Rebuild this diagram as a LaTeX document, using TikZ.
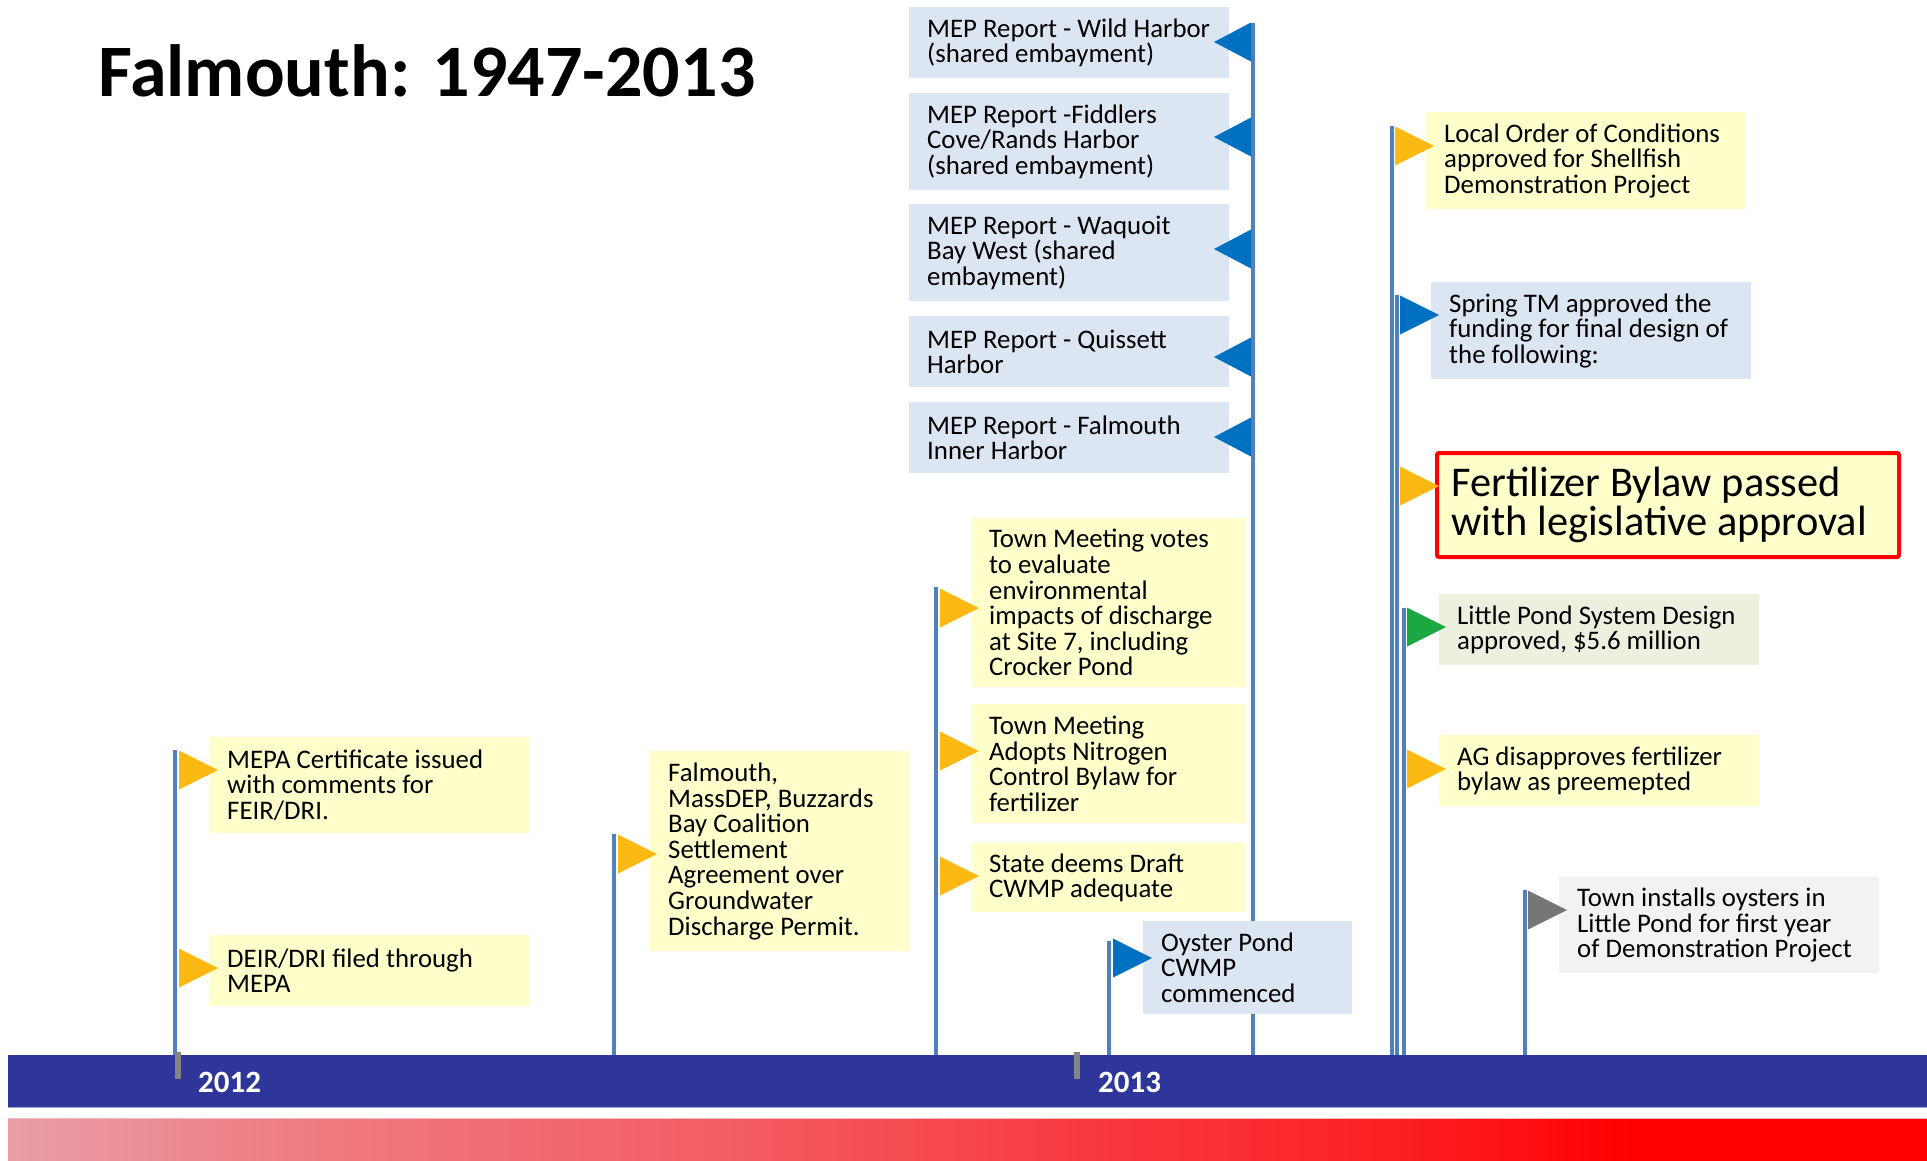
\documentclass[tikz,border=0pt]{standalone}
\usepackage{fontspec}
\setmainfont{Carlito}
\newfontfamily\bodyfam{Carlito}
\usetikzlibrary{positioning}
\definecolor{barblue}{RGB}{46,55,153}
\definecolor{stemblue}{RGB}{79,129,189}
\definecolor{flagY}{RGB}{253,185,19}
\definecolor{flagB}{RGB}{0,112,192}
\definecolor{flagG}{RGB}{27,168,67}
\definecolor{flagK}{RGB}{118,118,118}
\definecolor{boxY}{RGB}{255,255,204}
\definecolor{boxB}{RGB}{220,230,242}
\definecolor{boxG}{RGB}{235,241,222}
\definecolor{boxK}{RGB}{242,242,242}
\definecolor{gA}{RGB}{233,158,166}
\definecolor{gB}{RGB}{238,124,130}
\definecolor{gC}{RGB}{243,92,98}
\definecolor{gD}{RGB}{248,56,62}
\definecolor{gE}{RGB}{252,32,36}
\pgfdeclarehorizontalshading{redgrad}{100bp}{color(0bp)=(gA); color(25bp)=(gA); color(32.5bp)=(gB); color(44bp)=(gC); color(53.5bp)=(gD); color(61bp)=(gE); color(67.5bp)=(red); color(75bp)=(red); color(100bp)=(red)}
\newcommand\bodytext{\bodyfam\fontsize{26.8}{25.6}\selectfont}
\newcommand\flagR[3]{\fill[#1] ({#2},{#3-19.5}) -- ({#2+39},{#3}) -- ({#2},{#3+19.5}) -- cycle;}
\newcommand\flagL[3]{\fill[#1] ({#2},{#3-19.5}) -- ({#2-37},{#3}) -- ({#2},{#3+19.5}) -- cycle;}
\tikzset{
  stem/.style={draw=stemblue, line width=3.4pt},
  evbox/.style={anchor=north west, rectangle, inner sep=0pt},
  evtext/.style={anchor=west, inner sep=0pt, align=left, font=\bodytext, text=black},
  tick/.style={draw=flagK!90, line width=6pt},
  yearlbl/.style={anchor=base west, inner sep=0pt, text=white, font=\bodyfam\bfseries\fontsize{31}{31}\selectfont}
}
\newcommand\evb[7]{% name, fill, x1, y1, x2, y2, text
  \pgfmathsetmacro\evbw{#5-#3}\pgfmathsetmacro\evbh{#6-#4}%
  \node[evbox, fill=#2, minimum width=\evbw pt, minimum height=\evbh pt] (#1) at (#3,#4) {};
  \node[evtext, xshift=18pt] (#1-t) at (#1.west) {#7};}
\begin{document}
\begin{tikzpicture}[x=1pt,y=-1pt]
\useasboundingbox (0,0) rectangle (1927,1160);
% title
\node[anchor=base west, inner sep=0pt, font=\bodyfam\bfseries\fontsize{74}{80}\selectfont] (title) at (98,96) {Falmouth: 1947-2013};
% bars
\fill[barblue] (8,1055) rectangle (1927,1107);
\draw[color=barblue!45, line width=1pt] (8,1107.5) -- (1927,1107.5);
\shade[shading=redgrad] (8,1118) rectangle (1927,1160);
\draw[color=gA!70!white, line width=1pt] (8,1118.5) -- (1927,1118.5);
% stems
\coordinate (b1) at (175,1055); \coordinate (t1) at (175,750);
\coordinate (b2) at (614,1055); \coordinate (t2) at (614,834);
\coordinate (b3) at (936,1055); \coordinate (t3) at (936,587);
\coordinate (b4) at (1109,1055); \coordinate (t4) at (1109,941);
\coordinate (b5) at (1253,1055); \coordinate (t5) at (1253,23);
\coordinate (b6) at (1392,1055); \coordinate (t6) at (1392,126);
\coordinate (b7) at (1397,1055); \coordinate (t7) at (1397,295);
\coordinate (b8) at (1404,1055); \coordinate (t8) at (1404,608);
\coordinate (b9) at (1525,1055); \coordinate (t9) at (1525,890);
\foreach \i in {1,...,9} {\draw[stem] (b\i) -- (t\i);}
% year ticks and labels
\draw[tick] (178,1052) -- (178,1079);
\draw[tick] (1077,1052) -- (1077,1079);
\node[yearlbl] (y2012) at (198,1092) {2012};
\node[yearlbl] (y2013) at (1098,1092) {2013};
% boxes
\evb{mepa}{boxY}{209}{737}{530}{833}{MEPA Certificate issued\\with comments for\\FEIR/DRI.}
\evb{deir}{boxY}{209}{935}{530}{1006}{DEIR/DRI filed through\\MEPA}
\evb{settle}{boxY}{650}{751}{909}{951}{Falmouth,\\MassDEP, Buzzards\\Bay Coalition\\Settlement\\Agreement over\\Groundwater\\Discharge Permit.}
\evb{tmvotes}{boxY}{971}{518}{1245}{687}{Town Meeting votes\\to evaluate\\environmental\\impacts of discharge\\at Site 7, including\\Crocker Pond}
\evb{tmadopt}{boxY}{971}{704}{1245}{823}{Town Meeting\\Adopts Nitrogen\\Control Bylaw for\\fertilizer}
\evb{state}{boxY}{971}{843}{1245}{912}{State deems Draft\\CWMP adequate}
\evb{mep1}{boxB}{909}{7}{1229}{78}{MEP Report - Wild Harbor\\(shared embayment)}
\evb{mep2}{boxB}{909}{93}{1229}{190}{MEP Report -Fiddlers\\Cove/Rands Harbor\\(shared embayment)}
\evb{mep3}{boxB}{909}{204}{1229}{301}{MEP Report - Waquoit\\Bay West (shared\\embayment)}
\evb{mep4}{boxB}{909}{316}{1229}{387}{MEP Report - Quissett\\Harbor}
\evb{mep5}{boxB}{909}{402}{1229}{473}{MEP Report - Falmouth\\Inner Harbor}
\evb{oyster}{boxB}{1143}{921}{1352}{1014}{Oyster Pond\\CWMP\\commenced}
\evb{local}{boxY}{1426}{112}{1746}{209}{Local Order of Conditions\\approved for Shellfish\\Demonstration Project}
\evb{spring}{boxB}{1431}{282}{1751}{379}{Spring TM approved the\\funding for final design of\\the following:}
\node[anchor=north west, rectangle, rounded corners=2pt, draw=red, line width=4pt, fill=boxY, inner sep=0pt, minimum width=462pt, minimum height=104pt] (fert) at (1435,451) {};
\node[evtext, font=\bodyfam\fontsize{42.4}{38.5}\selectfont, xshift=16pt] (fert-t) at (fert.west) {Fertilizer Bylaw passed\\with legislative approval};
\evb{little}{boxG}{1439}{594}{1759}{665}{Little Pond System Design\\approved, \$5.6 million}
\evb{ag}{boxY}{1439}{735}{1759}{806}{AG disapproves fertilizer\\bylaw as preemepted}
\evb{oysters}{boxK}{1559}{877}{1879}{973}{Town installs oysters in\\Little Pond for first year\\of Demonstration Project}
% flags
\flagR{flagY}{179}{770}
\flagR{flagY}{179}{968}
\flagR{flagY}{618}{854}
\flagR{flagY}{940}{608}
\flagR{flagY}{940}{751}
\flagR{flagY}{940}{876}
\flagR{flagB}{1113}{958}
\flagL{flagB}{1251}{42}
\flagL{flagB}{1251}{137}
\flagL{flagB}{1251}{249}
\flagL{flagB}{1251}{357}
\flagL{flagB}{1251}{437}
\flagR{flagY}{1395}{146}
\flagR{flagB}{1400}{315}
\flagR{flagY}{1400}{486}
\flagR{flagG}{1407}{627}
\flagR{flagY}{1407}{769}
\flagR{flagK}{1528}{910}
\end{tikzpicture}
\end{document}
